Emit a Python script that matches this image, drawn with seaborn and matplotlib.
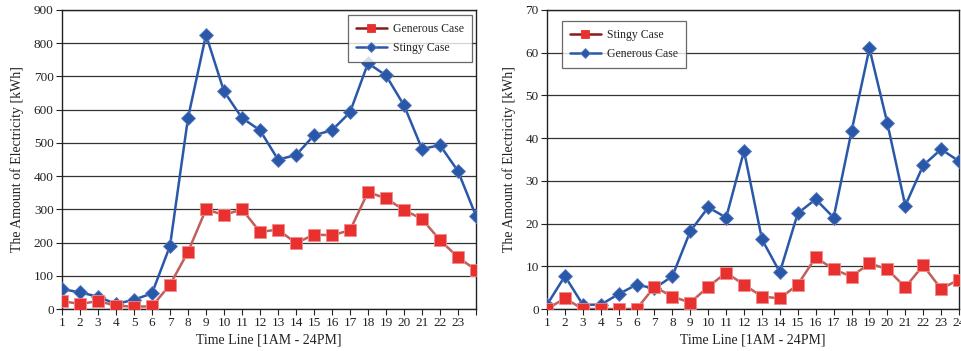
import pandas as pd
import numpy as np
import matplotlib
matplotlib.use("Agg")
import matplotlib.pyplot as plt
import seaborn as sns

hours = list(range(1, 25))

# left chart
left_generous = [24, 15, 24, 10, 7, 8, 73, 172, 300, 283, 300, 232,
                 239, 198, 224, 222, 237, 352, 333, 298, 271, 207, 156, 117]
left_stingy = [60, 50, 37, 15, 28, 47, 190, 575, 825, 655, 575, 538,
               450, 463, 523, 538, 592, 740, 703, 613, 482, 493, 415, 280]

# right chart
right_stingy = [0, 2.5, 0, 0, 0, 0, 5.2, 2.9, 1.5, 5.2, 8.5, 5.7,
                2.9, 2.5, 5.7, 12.1, 9.3, 7.6, 10.7, 9.3, 5.1, 10.2, 4.7, 6.9]
right_generous = [1, 7.7, 1, 1, 3.5, 5.7, 4.8, 7.7, 18.2, 23.8, 21.4, 37,
                  16.3, 8.6, 22.4, 25.7, 21.4, 41.6, 61, 43.5, 24.2, 33.6, 37.4, 34.6]

sns.set_style("white")
plt.rcParams['font.family'] = ['Liberation Serif', 'DejaVu Serif']

RED_LINE = '#c0605c'
RED_FILL = '#e8302f'
BLUE = '#2a58a8'

fig = plt.figure(figsize=(9.62, 3.51), dpi=100)
ax1 = fig.add_axes([62/962, 42/351, 414/962, 299/351])
ax2 = fig.add_axes([547/962, 42/351, 412/962, 299/351])


def draw(ax, red, blue, red_name, blue_name, ymax, ystep, last_label, legend_loc, legend_anchor):
    df = pd.DataFrame({'hour': hours, 'red': red, 'blue': blue})
    sns.lineplot(data=df, x='hour', y='blue', ax=ax, color=BLUE, lw=1.8,
                 marker='D', markersize=7, markerfacecolor=BLUE,
                 markeredgecolor='#5a7cc0', markeredgewidth=0.6, label=blue_name, zorder=3)
    sns.lineplot(data=df, x='hour', y='red', ax=ax, color=RED_LINE, lw=1.8,
                 marker='s', markersize=8, markerfacecolor=RED_FILL,
                 markeredgecolor='#f08a8a', markeredgewidth=0.6, label=red_name, zorder=4)
    ax.set_xlim(1, 24)
    ax.set_ylim(0, ymax)
    ax.set_xticks(hours)
    ax.set_xticklabels([str(h) for h in hours[:-1]] + [last_label])
    ax.set_yticks(np.arange(0, ymax + 1, ystep))
    ax.yaxis.grid(True, color='#333333', lw=0.9)
    ax.set_axisbelow(True)
    for s in ax.spines.values():
        s.set_color('#222222')
        s.set_linewidth(1.0)
    ax.tick_params(axis='both', direction='out', length=4, width=0.8,
                   labelsize=9.5, colors='#222222', pad=2)
    ax.tick_params(axis='x', bottom=True)
    ax.tick_params(axis='y', left=True)
    ax.set_xlabel('Time Line [1AM - 24PM]', fontsize=10, labelpad=3, color='#222222')
    ax.set_ylabel('The Amount of Electricity [kWh]', fontsize=10, labelpad=7, color='#222222')
    h, l = ax.get_legend_handles_labels()
    # red entry first
    leg = ax.legend([h[1], h[0]], [l[1], l[0]], loc=legend_loc, bbox_to_anchor=legend_anchor,
                    fontsize=8.5, frameon=True, fancybox=False, edgecolor='#444444',
                    borderpad=0.7, handlelength=2.6, handletextpad=0.5,
                    labelspacing=0.55, markerscale=0.8, borderaxespad=0)
    leg.get_frame().set_linewidth(0.9)
    leg.legend_handles[0].set_color('#8b1a1a')
    leg.legend_handles[0].set_markerfacecolor(RED_FILL)
    leg.legend_handles[0].set_markeredgecolor(RED_FILL)


draw(ax1, left_generous, left_stingy, 'Generous Case', 'Stingy Case', 900, 100, '',
     'upper right', (0.99, 0.983))
draw(ax2, right_stingy, right_generous, 'Stingy Case', 'Generous Case', 70, 10, '24',
     'upper left', (0.036, 0.963))

fig.savefig('out.png', dpi=100)
